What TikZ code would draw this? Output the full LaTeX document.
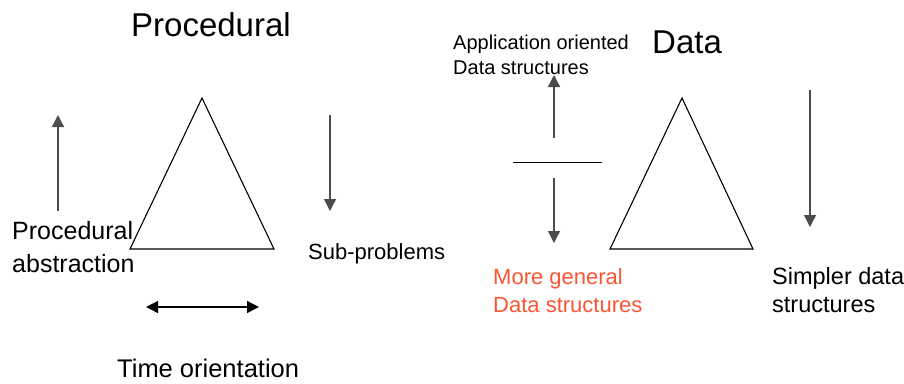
\documentclass[tikz,border=0pt]{standalone}
\usepackage{fontspec}
\setmainfont{Liberation Sans}
\usetikzlibrary{arrows.meta}
\definecolor{arrowgray}{gray}{0.3}
\definecolor{lightred}{RGB}{250,85,50}
\tikzset{
  lbl/.style={anchor=base west,inner sep=0pt,font=\fontsize{22}{26}\selectfont},
  ttl/.style={anchor=base west,inner sep=0pt,font=\fontsize{33}{38}\selectfont},
  arr/.style={draw=arrowgray,line width=1.3pt,-{Triangle[length=12pt,width=12pt]}},
  darr/.style={draw=black,line width=1.3pt,{Triangle[length=12pt,width=12pt]}-{Triangle[length=12pt,width=12pt]}},
  tri/.style={draw=black,line width=1.1pt,line join=miter},
}
\begin{document}
\begin{tikzpicture}[x=1pt,y=-1pt]
\useasboundingbox (0,0) rectangle (904,383);
% titles
\node[ttl] (ptitle) at (131,36) {Procedural};
\node[ttl] (dtitle) at (652,53) {Data};
% left triangle
\coordinate (la) at (202,98);
\coordinate (lb) at (130,249);
\coordinate (lc) at (274,249);
\draw[tri] (la) -- (lb) -- (lc) -- cycle;
% left arrows
\coordinate (pu1) at (58,211);
\coordinate (pu2) at (58,115);
\draw[arr] (pu1) -- (pu2);
\coordinate (pd1) at (330,115);
\coordinate (pd2) at (330,211);
\draw[arr] (pd1) -- (pd2);
\coordinate (h1) at (146,307);
\coordinate (h2) at (259,307);
\draw[darr] (h1) -- (h2);
% left labels
\node[lbl,font=\fontsize{25}{29}\selectfont] (pa1) at (12,239) {Procedural};
\node[lbl,font=\fontsize{25}{29}\selectfont] (pa2) at (12,272) {abstraction};
\node[lbl] (sub) at (308,259) {Sub-problems};
\node[lbl,font=\fontsize{25.5}{29}\selectfont] (time) at (117,377) {Time orientation};
% right triangle
\coordinate (ra) at (682,98);
\coordinate (rb) at (610,249);
\coordinate (rc) at (753,249);
\draw[tri] (ra) -- (rb) -- (rc) -- cycle;
% right arrows
\coordinate (du1) at (554,138);
\coordinate (du2) at (554,75);
\draw[arr] (du1) -- (du2);
\coordinate (hl1) at (513,162);
\coordinate (hl2) at (602,162);
\draw[black,line width=1pt] (hl1) -- (hl2);
\coordinate (dd1) at (554,178);
\coordinate (dd2) at (554,243);
\draw[arr] (dd1) -- (dd2);
\coordinate (sd1) at (810,90);
\coordinate (sd2) at (810,227);
\draw[arr] (sd1) -- (sd2);
% right labels
\node[lbl,font=\fontsize{20}{24}\selectfont] (app1) at (453,49) {Application oriented};
\node[lbl,font=\fontsize{20}{24}\selectfont] (app2) at (453,74) {Data structures};
\node[lbl,text=lightred] (mg1) at (493,284) {More general};
\node[lbl,text=lightred] (mg2) at (493,312) {Data structures};
\node[lbl,font=\fontsize{23.5}{27}\selectfont] (sp1) at (772,284) {Simpler data};
\node[lbl,font=\fontsize{23.5}{27}\selectfont] (sp2) at (772,312) {structures};
\end{tikzpicture}
\end{document}
